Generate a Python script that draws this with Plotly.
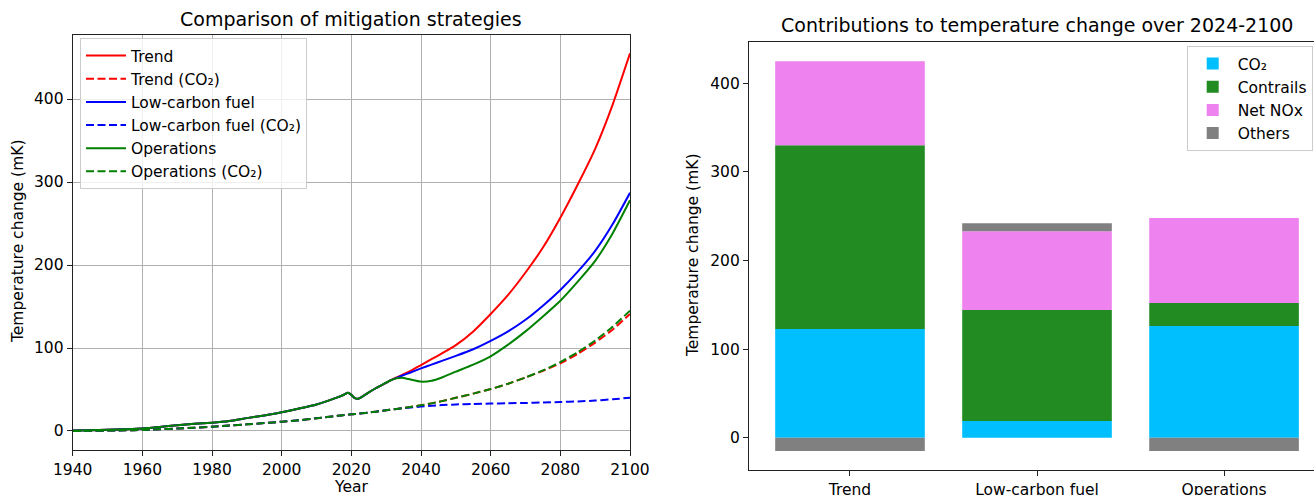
import plotly.graph_objects as go

# ---------------- data: left panel ----------------
years = [1940, 1945, 1950, 1955, 1960, 1965, 1970, 1975, 1980, 1985, 1990, 1995,
         2000, 2005, 2010, 2013, 2016, 2018, 2019, 2020, 2021, 2022, 2023, 2025,
         2027, 2029, 2031, 2033, 2035, 2037, 2040, 2043, 2046, 2050, 2055, 2060,
         2065, 2070, 2075, 2080, 2085, 2090, 2095, 2100]

history = [0.5, 1.0, 1.5, 2.2, 3.0, 4.8, 7.0, 8.8, 10.0, 12.0, 15.5, 18.8,
           22.5, 27.0, 32.0, 36.0, 40.5, 44.0, 46.0, 43.5, 39.5, 38.8, 41.0, 46.5,
           51.5, 56.0, 60.5]

trend = history + [64.5, 68.5, 72.5, 79.5, 86.5, 93.5, 103.5, 120, 141,
                   164, 191, 221, 257, 297, 340, 393, 455]
low_carbon = history + [64, 67.5, 70.5, 75.5, 80, 84.5, 90.5, 98.5, 108.5,
                        120, 134, 151, 170, 192, 217, 249, 287]
operations = history + [63.5, 64, 62, 59.5, 60.5, 64.5, 71.5, 80, 90,
                        104, 120, 138, 157, 180, 205, 238, 278]

co2_history = [0.0, 0.2, 0.5, 0.8, 1.2, 2.0, 3.0, 4.0, 5.2, 6.5, 8.0, 9.5,
               11.2, 13.0, 15.3, 16.8, 18.3, 19.2, 19.7, 20.1, 20.4, 20.8, 21.3, 22.3,
               23.3, 24.3, 25.5, 26.6]
trend_co2 = co2_history + [27.8, 29, 31, 33.3, 36, 40, 45, 50.5,
                           57, 64.5, 72.5, 81.5, 93, 106.5, 122, 141]
low_carbon_co2 = co2_history + [27.5, 28.3, 29.5, 30.5, 31.3, 32, 32.6, 33,
                                33.4, 33.8, 34.3, 34.9, 35.6, 36.6, 38.2, 40]
operations_co2 = co2_history + [27.8, 29, 31, 33.3, 36, 40, 45, 50.5,
                                57, 64.5, 73, 83, 95, 109, 125.5, 145]

# ---------------- data: right panel ----------------
strategies = ["Trend", "Low-carbon fuel", "Operations"]
contrib_co2 = [122.7, 18.8, 126.0]
contrib_contrails = [207.3, 125.2, 26.0]
contrib_nox = [95.0, 89.0, 96.0]
contrib_others = [-15.0, 9.0, -15.0]

W, H = 1314, 495
FONT = "DejaVu Sans"
TICK = 15.5
TITLE = 19

def px_x(p):
    return p / W

def px_y(p):
    return (H - p) / H

fig = go.Figure()

line_specs = [
    ("Trend", trend, "#ff0000", "solid"),
    ("Trend (CO₂)", trend_co2, "#ff0000", "8px,3.5px"),
    ("Low-carbon fuel", low_carbon, "#0000ff", "solid"),
    ("Low-carbon fuel (CO₂)", low_carbon_co2, "#0000ff", "8px,3.5px"),
    ("Operations", operations, "#008000", "solid"),
    ("Operations (CO₂)", operations_co2, "#008000", "8px,3.5px"),
]
for name, vals, col, dash in line_specs:
    fig.add_trace(go.Scatter(
        x=years, y=vals, mode="lines", name=name,
        line=dict(color=col, width=2, dash=dash, shape="spline", smoothing=0.5),
        xaxis="x", yaxis="y", legend="legend",
    ))

bar_specs = [
    ("CO₂", contrib_co2, "#00bfff"),
    ("Contrails", contrib_contrails, "#228b22"),
    ("Net NOx", contrib_nox, "#ee82ee"),
    ("Others", contrib_others, "#808080"),
]
for name, vals, col in bar_specs:
    fig.add_trace(go.Bar(
        x=strategies, y=vals, name=name, marker=dict(color=col, line=dict(width=0)),
        xaxis="x2", yaxis="y2", legend="legend2",
    ))

axis_common = dict(
    showline=True, linecolor="#222222", linewidth=1.2,
    ticks="outside", ticklen=5, tickwidth=1.2, tickcolor="#222222",
    tickfont=dict(family=FONT, size=TICK, color="black"),
    zeroline=False, automargin=False,
)

fig.update_layout(
    width=W, height=H,
    margin=dict(l=0, r=0, t=0, b=0),
    paper_bgcolor="white", plot_bgcolor="white",
    font=dict(family=FONT, size=TICK, color="black"),
    barmode="relative", bargap=0.2,
    xaxis=dict(domain=[px_x(72.7), px_x(630)], range=[1940, 2100], dtick=20,
               tick0=1940, showgrid=True, gridcolor="#b0b0b0", gridwidth=1.1,
               mirror=True, anchor="y", **axis_common),
    yaxis=dict(domain=[px_y(450), px_y(34.7)], range=[-22.9, 477.5], dtick=100,
               showgrid=True, gridcolor="#b0b0b0", gridwidth=1.1,
               mirror=True, anchor="x", **axis_common),
    xaxis2=dict(domain=[px_x(749), 1.0], range=[-0.54, 2.481], type="category",
                showgrid=False, mirror=True, anchor="y2", **axis_common),
    yaxis2=dict(domain=[px_y(470), px_y(42.3)], range=[-36.5, 446.3], dtick=100,
                showgrid=False, mirror=False, anchor="x2", **axis_common),
    legend=dict(x=px_x(80), y=px_y(38), xanchor="left", yanchor="top",
                bgcolor="rgba(255,255,255,0.8)", bordercolor="#cccccc", borderwidth=1,
                font=dict(family=FONT, size=TICK), tracegroupgap=0, itemwidth=40),
    legend2=dict(x=px_x(1186.7), y=px_y(46), xanchor="left", yanchor="top",
                 bgcolor="rgba(255,255,255,0.8)", bordercolor="#cccccc", borderwidth=1,
                 font=dict(family=FONT, size=TICK), tracegroupgap=0, itemwidth=40),
    showlegend=True,
)

annotations = [
    dict(text="Comparison of mitigation strategies", x=px_x(351), y=px_y(19),
         font=dict(family=FONT, size=TITLE)),
    dict(text="Contributions to temperature change over 2024-2100", x=px_x(1037), y=px_y(25),
         font=dict(family=FONT, size=TITLE)),
    dict(text="Year", x=px_x(351), y=px_y(487), font=dict(family=FONT, size=TICK)),
    dict(text="Temperature change (mK)", x=px_x(18), y=px_y(242), textangle=-90,
         font=dict(family=FONT, size=TICK)),
    dict(text="Temperature change (mK)", x=px_x(693), y=px_y(256), textangle=-90,
         font=dict(family=FONT, size=TICK)),
]
for a in annotations:
    a.update(xref="paper", yref="paper", showarrow=False, xanchor="center", yanchor="middle")
    fig.add_annotation(**a)

fig.write_html("out.html", config={"displayModeBar": False},
               post_script="document.body.style.margin='0px';")
